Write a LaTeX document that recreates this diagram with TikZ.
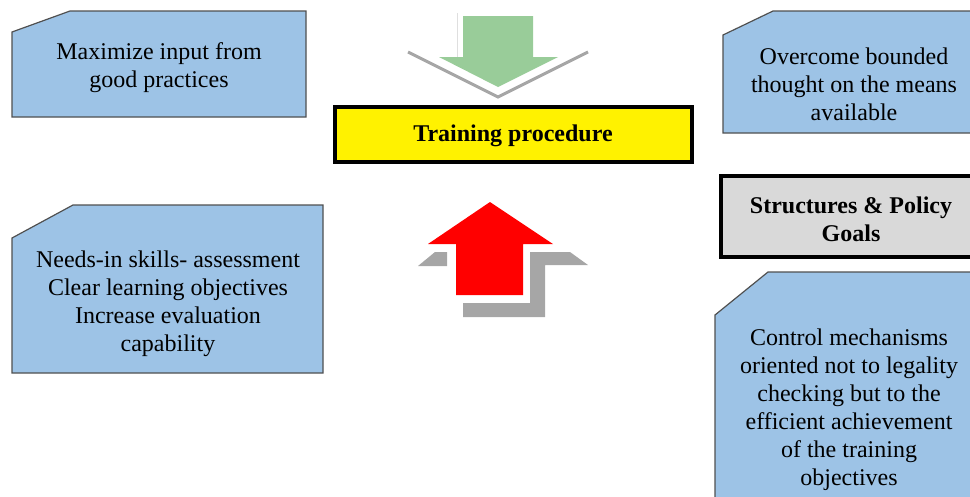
\documentclass[tikz,border=0pt]{standalone}
\usepackage{fontspec}
\setmainfont{Liberation Serif}[Ligatures=TeX]
\definecolor{boxblue}{RGB}{157,195,230}
\definecolor{boxline}{RGB}{80,80,80}
\definecolor{arrowgreen}{RGB}{153,204,153}
\definecolor{shadowgray}{RGB}{166,166,166}
\definecolor{goalgray}{RGB}{217,217,217}
\begin{document}
\begin{tikzpicture}[
	x=1pt, y=-1pt,
	snipbox/.style={fill=boxblue, draw=boxline, line width=1.2pt},
	framebox/.style={draw=black, line width=3.5pt},
	every node/.style={
		align=center, font=\rmfamily\fontsize{24}{28}\selectfont
	}
	]
	\useasboundingbox (0,0) rectangle (970,496);
	
	% Blue boxes with a cut corner
	\draw[snipbox] (12,32) -- (70,11) -- (306,11) -- (306,117) -- (12,117) -- cycle;
	\draw[snipbox] (723,35) -- (773,11) -- (990,11) -- (990,133) -- (723,133) -- cycle;
	\draw[snipbox] (12,238) -- (73,205) -- (323,205) -- (323,373) -- (12,373) -- cycle;
	\draw[snipbox] (715,315) -- (768,272) -- (990,272) -- (990,510) -- (715,510) -- cycle;
	
	% Framed boxes
	\draw[framebox, fill=yellow] (335,107) rectangle (692,162);
	\draw[framebox, fill=goalgray] (721,176) rectangle (995,257);
	
	% Green arrow down
	\draw[gray!25, line width=1pt] (457,13) -- (457,57);
	\draw[gray!70, line width=3pt] (408,52) -- (498,97) -- (588,52);
	\fill[arrowgreen] (463,16) -- (533,16) -- (533,57) -- (558,57)
		-- (498,87) -- (439,57) -- (463,57) -- cycle;
	
	% Red arrow up
	\fill[shadowgray] (435,252) -- (447,252) -- (447,266) -- (418,266) -- cycle;
	\fill[shadowgray] (530,252) -- (570,252) -- (588,265) -- (545,265)
		-- (545,317) -- (463,317) -- (463,303) -- (530,303) -- cycle;
	\fill[red] (490,202) -- (553,244) -- (523,244) -- (523,295)
		-- (456,295) -- (456,244) -- (428,244) -- cycle;
	
	% Texts
	\node (practices) at (159,68) {Maximize input from\\good practices};
	\node (bounded) at (854,84) {Overcome bounded\\thought on the means\\available};
	\node[font=\rmfamily\bfseries\fontsize{24}{28}\selectfont] (training) at (513,136) {Training procedure};
	\node[font=\rmfamily\bfseries\fontsize{24}{28}\selectfont] (goals) at (851,219) {Structures \& Policy\\Goals};
	\node (skills) at (168,304) {Needs-in skills- assessment\\Clear learning objectives\\Increase evaluation\\capability};
	\node (control) at (849,410) {Control mechanisms\\oriented not to legality\\checking but to the\\efficient achievement\\of the training\\objectives};
	
\end{tikzpicture}
\end{document}
